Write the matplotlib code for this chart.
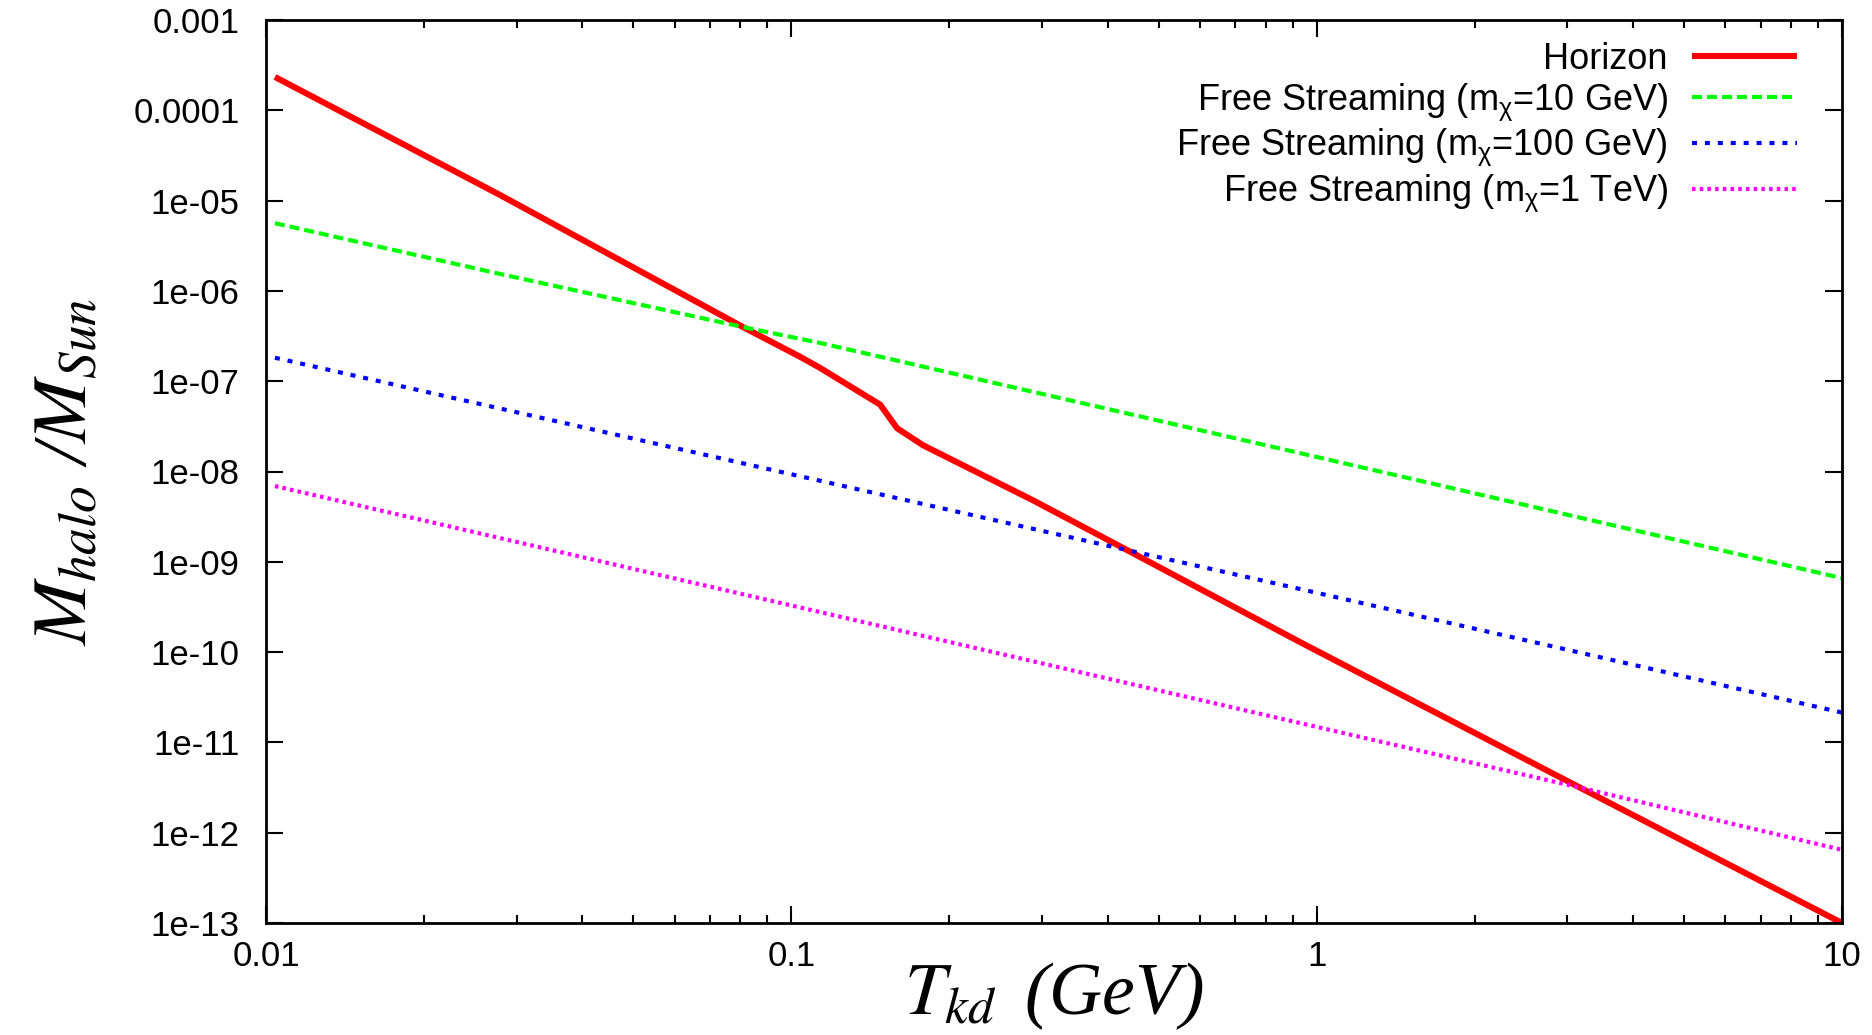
import matplotlib
matplotlib.use("Agg")
import matplotlib.pyplot as plt
from matplotlib.ticker import FixedLocator, NullLocator, LogLocator, NullFormatter

plt.rcParams['font.family'] = ['Liberation Sans', 'DejaVu Sans']
plt.rcParams['mathtext.fontset'] = 'custom'
plt.rcParams['mathtext.rm'] = 'Liberation Sans'
plt.rcParams['mathtext.it'] = 'Liberation Sans:italic'

# values (T_kd in GeV, M_halo / M_sun)
horizon_T = [0.0104, 0.0279, 0.0809, 0.104, 0.1135, 0.1476, 0.1589, 0.1782,
             0.2884, 0.4355, 0.929, 3.17, 10.0]
horizon_M = [2.34e-4, 1.153e-5, 3.98e-7, 1.86e-7, 1.40e-7, 5.50e-8, 3.02e-8, 1.95e-8,
             4.8e-9, 1.35e-9, 1.294e-10, 3.16e-12, 1.0e-13]

fs10_T = [0.0104, 0.0279, 0.0809, 0.1135, 0.929, 2.904, 10.0]
fs10_M = [5.62e-6, 1.54e-6, 3.98e-7, 2.65e-7, 1.60e-8, 3.47e-9, 6.6e-10]

fs100_T = [0.0104, 0.4355, 0.929, 2.844, 10.0]
fs100_M = [1.82e-7, 1.35e-9, 5.0e-10, 1.14e-10, 2.14e-11]

fs1000_T = [0.0104, 0.929, 3.17, 10.0]
fs1000_M = [6.9e-9, 1.64e-11, 3.16e-12, 6.46e-13]

xticks = [0.01, 0.1, 1, 10]
xticklabels = ['0.01', '0.1', '1', '10']
yticks = [1e-13, 1e-12, 1e-11, 1e-10, 1e-9, 1e-8, 1e-7, 1e-6, 1e-5, 1e-4, 1e-3]
yticklabels = ['1e-13', '1e-12', '1e-11', '1e-10', '1e-09', '1e-08', '1e-07',
               '1e-06', '1e-05', '0.0001', '0.001']

fig = plt.figure(figsize=(18.72, 10.35), dpi=100)
ax = fig.add_axes([266/1872, 1 - 923/1035, (1842 - 266)/1872, (923 - 20)/1035])

ax.plot(horizon_T, horizon_M, color='#ff0000', lw=4.4, solid_capstyle='butt',
        label='Horizon')
ax.plot(fs10_T, fs10_M, color='#00ff00', lw=3, dashes=(2.4, 1.2),
        label=r'Free Streaming ($\mathrm{m}_{\mathrm{\chi}}$=10 GeV)')
ax.plot(fs100_T, fs100_M, color='#0000ff', lw=3, dashes=(1.2, 1.9),
        label=r'Free Streaming ($\mathrm{m}_{\mathrm{\chi}}$=100 GeV)')
ax.plot(fs1000_T, fs1000_M, color='#ff00ff', lw=3, dashes=(0.85, 1.0),
        label=r'Free Streaming ($\mathrm{m}_{\mathrm{\chi}}$=1 TeV)')

ax.set_xscale('log')
ax.set_yscale('log')
ax.set_xlim(0.01, 10)
ax.set_ylim(1e-13, 1e-3)

ax.xaxis.set_major_locator(FixedLocator(xticks))
ax.set_xticklabels(xticklabels)
ax.xaxis.set_minor_locator(LogLocator(base=10, subs=range(2, 10)))
ax.xaxis.set_minor_formatter(NullFormatter())
ax.yaxis.set_major_locator(FixedLocator(yticks))
ax.set_yticklabels(yticklabels)
ax.yaxis.set_minor_locator(NullLocator())

ax.tick_params(which='both', direction='in', top=True, right=True, width=1.5,
               labelsize=25, colors='black')
ax.tick_params(which='major', length=12)
ax.tick_params(which='minor', length=6)
ax.tick_params(axis='y', pad=19)
ax.tick_params(axis='x', pad=12)
for s in ax.spines.values():
    s.set_linewidth(2)

ax.set_xlabel(r'$T_{kd}\,$ (GeV)', fontsize=53, family='Liberation Serif',
              style='italic', math_fontfamily='stix', labelpad=-9)
ax.set_ylabel(r'$M_{halo}$ /$M_{Sun}$', fontsize=55, family='Liberation Serif',
              style='italic', math_fontfamily='stix', labelpad=22)

leg = ax.legend(loc='upper right', bbox_to_anchor=(1797/1872, 1 - 42/1035),
                bbox_transform=fig.transFigure, frameon=False, markerfirst=False,
                fontsize=26, handlelength=2.9, handletextpad=0.68,
                labelspacing=0.12, borderpad=0, borderaxespad=0)

fig.savefig('out.png', dpi=100)
